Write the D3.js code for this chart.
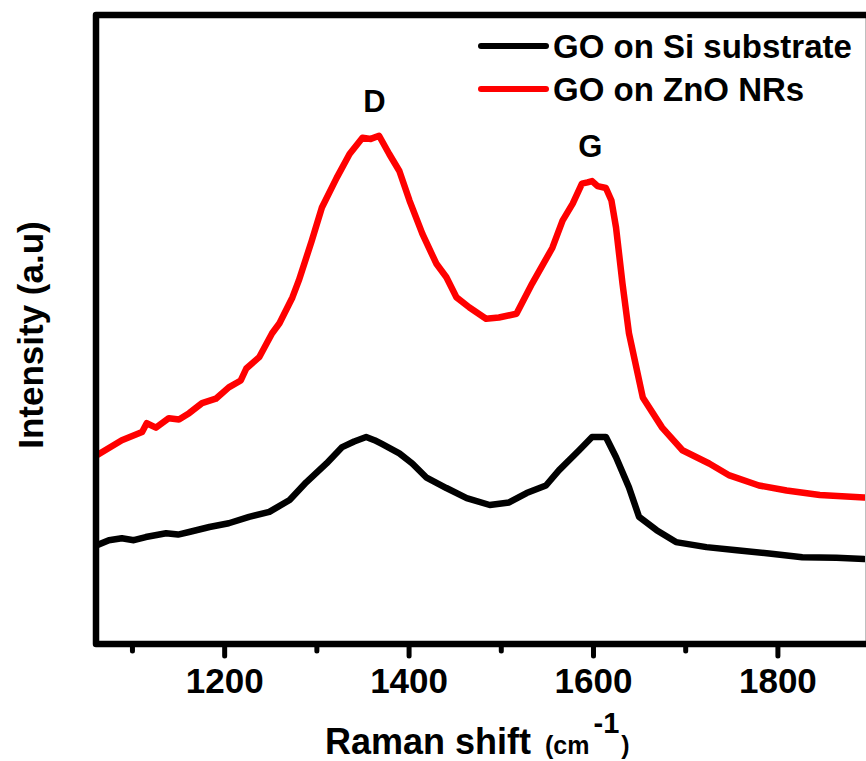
<!DOCTYPE html>
<html>
<head>
<meta charset="utf-8">
<script src="https://cdn.jsdelivr.net/npm/d3@7"></script>
<style>
  html, body { margin: 0; padding: 0; background: #fff; }
  svg { display: block; }
  text { font-family: "Liberation Sans", Arial, sans-serif; font-weight: bold; fill: #000; }
</style>
</head>
<body>
<svg id="chart" width="866" height="761"></svg>
<script>
// ---- Data ----
const siShift = [1062,1075,1089,1102,1115,1137,1150,1162,1184,1205,1227,1249,1271,1289,1311,1328,1341,1354,1363,1371,1390,1404,1419,1441,1463,1488,1509,1528,1549,1563,1585,1599,1614,1625,1639,1650,1669,1690,1723,1756,1791,1827,1864,1894];
const siIntensity = [15.7,16.5,16.8,16.5,17.0,17.6,17.4,17.8,18.6,19.2,20.2,21.0,22.9,25.7,28.7,31.3,32.2,32.9,32.4,31.8,30.3,28.7,26.5,24.8,23.2,22.1,22.5,24.0,25.2,27.6,30.8,32.9,32.9,29.7,24.9,20.2,18.1,16.2,15.4,14.9,14.4,13.8,13.7,13.5];

const znoShift = [1062,1089,1111,1116,1126,1140,1151,1162,1176,1191,1205,1218,1224,1238,1252,1260,1274,1281,1295,1306,1322,1336,1350,1359,1368,1379,1390,1401,1415,1430,1441,1452,1466,1484,1498,1517,1534,1556,1567,1578,1588,1594,1599,1605,1614,1620,1625,1632,1639,1654,1675,1697,1726,1748,1780,1810,1846,1894];
const znoIntensity = [30.0,32.4,33.7,35.1,34.4,35.9,35.7,36.7,38.3,39.0,40.8,41.9,43.8,45.6,49.4,51.0,55.1,57.8,64.1,69.4,74.1,77.9,80.5,80.3,80.8,77.9,75.2,70.5,65.2,60.5,58.3,55.1,53.5,51.7,51.9,52.5,57.3,63.0,67.3,70.0,73.2,73.4,73.6,72.8,72.5,70.5,66.2,57.3,49.4,39.2,34.4,30.8,28.7,26.8,25.2,24.4,23.7,23.3];

const seriesNames = ["GO on Si substrate", "GO on ZnO NRs"];
const seriesColors = ["#000000", "#ff0000"];
const xTicksMajor = [1200, 1400, 1600, 1800];
const xTicksMinor = [1100, 1300, 1500, 1700];
const peakLabels = ["D", "G"];
const peakShift = [1363, 1597];
const peakIntensity = [84.5, 77.5];

// ---- Layout ----
const svg = d3.select("#chart");
const mLeft = 96, mRight = 865, mTop = 15, mBottom = 644;
const x = d3.scaleLinear().domain([1061, 1895]).range([mLeft, mRight]);
const y = d3.scaleLinear().domain([0, 100]).range([mBottom, mTop]);

svg.append("defs").append("clipPath").attr("id", "clip")
  .append("rect").attr("x", mLeft).attr("y", mTop).attr("width", mRight - mLeft).attr("height", mBottom - mTop);

const line = d3.line().x(d => x(d[0])).y(d => y(d[1]));

const series = [
  d3.zip(siShift, siIntensity),
  d3.zip(znoShift, znoIntensity)
];

const gLines = svg.append("g").attr("clip-path", "url(#clip)");
series.forEach((s, i) => {
  gLines.append("path").datum(s)
    .attr("d", line)
    .attr("fill", "none")
    .attr("stroke", seriesColors[i])
    .attr("stroke-width", 6.5)
    .attr("stroke-linejoin", "round")
    .attr("stroke-linecap", "round");
});

// Frame
svg.append("path")
  .attr("d", `M${mRight + 4},${mBottom} L${mLeft},${mBottom} L${mLeft},${mTop} L${mRight + 4},${mTop} Z`)
  .attr("fill", "none").attr("stroke", "#000").attr("stroke-width", 6.5)
  .attr("stroke-linejoin", "round");

// X axis ticks via d3 axis
const axisMajor = d3.axisBottom(x).tickValues(xTicksMajor).tickSize(12).tickPadding(12).tickFormat(d3.format("d"));
const gAx = svg.append("g").attr("transform", `translate(0,${mBottom})`).call(axisMajor);
gAx.select(".domain").remove();
gAx.selectAll(".tick line").attr("stroke", "#000").attr("stroke-width", 5).attr("stroke-linecap", "round");
gAx.selectAll(".tick text").attr("font-size", 35).attr("font-family", "Liberation Sans, Arial, sans-serif").attr("font-weight", "bold").attr("fill", "#000");

const axisMinor = d3.axisBottom(x).tickValues(xTicksMinor).tickSize(7).tickFormat("");
const gAxM = svg.append("g").attr("transform", `translate(0,${mBottom})`).call(axisMinor);
gAxM.select(".domain").remove();
gAxM.selectAll(".tick line").attr("stroke", "#000").attr("stroke-width", 5).attr("stroke-linecap", "round");

// Axis titles
const xt = svg.append("text").attr("x", 325).attr("y", 754).attr("font-size", 36);
xt.append("tspan").text("Raman shift ");
xt.append("tspan").attr("font-size", 25).attr("dx", 4).text("(cm");
xt.append("tspan").attr("font-size", 29).attr("dx", 4).attr("dy", -21).text("-1");
xt.append("tspan").attr("font-size", 25).attr("dx", 2).attr("dy", 21).text(")");

svg.append("text")
  .attr("transform", "translate(43,335) rotate(-90)")
  .attr("text-anchor", "middle").attr("font-size", 35)
  .text("Intensity (a.u)");

// Peak labels
peakLabels.forEach((t, i) => {
  svg.append("text").attr("x", x(peakShift[i])).attr("y", y(peakIntensity[i]))
    .attr("text-anchor", "middle").attr("font-size", 31).text(t);
});

// Legend
seriesNames.forEach((n, i) => {
  const ly = 46 + i * 43;
  svg.append("line").attr("x1", 481).attr("x2", 546).attr("y1", ly).attr("y2", ly)
    .attr("stroke", seriesColors[i]).attr("stroke-width", 6).attr("stroke-linecap", "round");
  svg.append("text").attr("x", 553).attr("y", ly + 12).attr("font-size", 33).text(n);
});
</script>
</body>
</html>
